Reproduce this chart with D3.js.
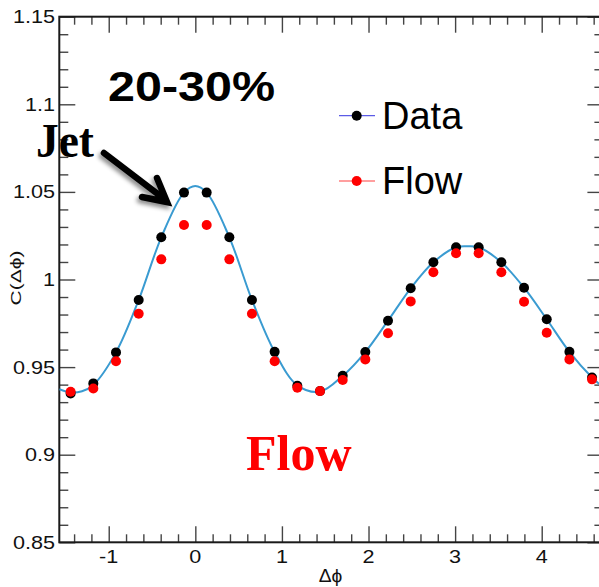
<!DOCTYPE html>
<html><head><meta charset="utf-8">
<script src="https://cdn.jsdelivr.net/npm/d3@7"></script>
<style>html,body{margin:0;padding:0;background:#fff;overflow:hidden}</style>
</head><body>
<svg id="c" width="599" height="587"></svg>
<script>
// ---- data ----
const dphi = [-1.440,-1.178,-0.916,-0.654,-0.393,-0.131,0.131,0.393,0.654,0.916,1.178,1.440,
              1.702,1.963,2.225,2.487,2.749,3.011,3.272,3.534,3.796,4.058,4.320,4.581];
const dataVals = [0.9350,0.9407,0.9584,0.9883,1.0241,1.0496,1.0496,1.0241,0.9883,0.9587,0.9393,0.9364,
                  0.9450,0.9586,0.9765,0.9950,1.0098,1.0184,1.0184,1.0098,0.9953,0.9773,0.9587,0.9441];
const flowVals = [0.9359,0.9378,0.9533,0.9805,1.0115,1.0311,1.0311,1.0115,0.9805,0.9533,0.9382,0.9363,
                  0.9426,0.9544,0.9693,0.9875,1.0041,1.0150,1.0150,1.0041,0.9873,0.9696,0.9544,0.9430];
const fitX = [-1.571,-1.440,-1.309,-1.178,-0.916,-0.654,-0.393,-0.131,0.000,0.131,0.393,0.654,0.916,1.178,
              1.440,1.702,1.963,2.225,2.487,2.749,3.011,3.142,3.272,3.534,3.796,4.058,4.320,4.581,4.712];
const fitY = [0.9374,0.9355,0.9362,0.9398,0.9584,0.9883,1.0241,1.0496,1.0533,1.0496,1.0241,0.9883,0.9586,0.9396,
              0.9360,0.9450,0.9586,0.9765,0.9950,1.0098,1.0184,1.0190,1.0184,1.0098,0.9953,0.9773,0.9587,0.9441,0.9385];
const xMajor = [-1,0,1,2,3,4];
const xMinor = [-1.4,-1.2,-0.8,-0.6,-0.4,-0.2,0.2,0.4,0.6,0.8,1.2,1.4,1.6,1.8,2.2,2.4,2.6,2.8,3.2,3.4,3.6,3.8,4.2,4.4,4.6];
const yMajor = [0.85,0.9,0.95,1,1.05,1.1,1.15];
const yMajorLabels = ["0.85","0.9","0.95","1","1.05","1.1","1.15"];
const yMinor = [0.86,0.87,0.88,0.89,0.91,0.92,0.93,0.94,0.96,0.97,0.98,0.99,1.01,1.02,1.03,1.04,1.06,1.07,1.08,1.09,1.11,1.12,1.13,1.14];
const legendItems = ["Data","Flow"];

// ---- layout ----
const svg = d3.select("#c");
const X0 = 59.3, X1 = 603.4, Y0 = 542.3, Y1 = 16.7;
const xs = d3.scaleLinear().domain([-Math.PI/2, 3*Math.PI/2]).range([X0, X1]);
const ys = d3.scaleLinear().domain([0.85, 1.15]).range([Y0, Y1]);

const defs = svg.append("defs");
defs.append("clipPath").attr("id","plot").append("rect")
  .attr("x",X0).attr("y",Y1).attr("width",X1-X0).attr("height",Y0-Y1);
const f = defs.append("filter").attr("id","shadow").attr("x","-30%").attr("y","-30%").attr("width","160%").attr("height","160%");
f.append("feDropShadow").attr("dx",-2).attr("dy",3).attr("stdDeviation",2).attr("flood-color","#000").attr("flood-opacity",0.45);

const tickColor = "#444";
function styleAxis(g){ g.select(".domain").remove(); g.selectAll("text").remove(); g.selectAll("line").attr("stroke",tickColor).attr("stroke-width",1.4); }

// bottom
svg.append("g").attr("transform",`translate(0,${Y0})`).call(d3.axisBottom(xs).tickValues(xMajor).tickSize(-16)).call(styleAxis);
svg.append("g").attr("transform",`translate(0,${Y0})`).call(d3.axisBottom(xs).tickValues(xMinor).tickSize(-8)).call(styleAxis);
// top
svg.append("g").attr("transform",`translate(0,${Y1})`).call(d3.axisTop(xs).tickValues(xMajor).tickSize(-16)).call(styleAxis);
svg.append("g").attr("transform",`translate(0,${Y1})`).call(d3.axisTop(xs).tickValues(xMinor).tickSize(-8)).call(styleAxis);
// left
svg.append("g").attr("transform",`translate(${X0},0)`).call(d3.axisLeft(ys).tickValues(yMajor).tickSize(-16)).call(styleAxis);
svg.append("g").attr("transform",`translate(${X0},0)`).call(d3.axisLeft(ys).tickValues(yMinor).tickSize(-9)).call(styleAxis);
// right
svg.append("g").attr("transform",`translate(${X1},0)`).call(d3.axisRight(ys).tickValues(yMajor).tickSize(-16)).call(styleAxis);
svg.append("g").attr("transform",`translate(${X1},0)`).call(d3.axisRight(ys).tickValues(yMinor).tickSize(-9)).call(styleAxis);

// frame
svg.append("rect").attr("x",X0).attr("y",Y1).attr("width",X1-X0).attr("height",Y0-Y1)
  .attr("fill","none").attr("stroke","#1a1a1a").attr("stroke-width",2);

// tick labels
const lab = svg.append("g").attr("font-family","'Liberation Sans', Arial, sans-serif").attr("fill","#111");
lab.selectAll(".yl").data(yMajor).join("text")
  .attr("transform",(d)=>`translate(55,${ys(d)+6.5}) scale(1.2,1)`)
  .attr("text-anchor","end").attr("font-size",18).text((d,i)=>yMajorLabels[i]);
lab.selectAll(".xl").data(xMajor).join("text")
  .attr("transform",d=>`translate(${xs(d)},563) scale(1.2,1)`)
  .attr("text-anchor","middle").attr("font-size",18).text(d=>d3.format("d")(d).replace("−","-"));

// axis titles
svg.append("text").attr("transform","translate(330.5,582) scale(1.1,1)").attr("text-anchor","middle")
  .attr("font-family","'Liberation Sans', Arial, sans-serif").attr("font-size",17.5).attr("fill","#111").text("Δϕ");
svg.append("text").attr("transform","translate(21,278) rotate(-90) scale(1.45,1)").attr("text-anchor","middle")
  .attr("font-family","'Liberation Sans', Arial, sans-serif").attr("font-size",14.5).attr("fill","#111").text("C(Δϕ)");

// fit curve
const plot = svg.append("g").attr("clip-path","url(#plot)");
const line = d3.line().x((d,i)=>xs(fitX[i])).y(d=>ys(d)).curve(d3.curveCatmullRom.alpha(0.5));
plot.append("path").datum(fitY).attr("d",line).attr("fill","none").attr("stroke","#3a9bd1").attr("stroke-width",2);

// points
plot.selectAll(".dp").data(dataVals).join("circle")
  .attr("cx",(d,i)=>xs(dphi[i])).attr("cy",d=>ys(d)).attr("r",5).attr("fill","#000");
plot.selectAll(".fp").data(flowVals).join("circle")
  .attr("cx",(d,i)=>xs(dphi[i])).attr("cy",d=>ys(d)).attr("r",5).attr("fill","#ff0000");

// legend
const legY = [115.7, 181];
const legLine = ["#5b5be6","#ff4040"];
const legDot = ["#000","#ff0000"];
const lg = svg.append("g");
legendItems.forEach((name,i)=>{
  lg.append("line").attr("x1",339).attr("x2",375).attr("y1",legY[i]).attr("y2",legY[i]).attr("stroke",legLine[i]).attr("stroke-width",1.2);
  lg.append("circle").attr("cx",356.7).attr("cy",legY[i]).attr("r",5).attr("fill",legDot[i]);
  lg.append("text").attr("x",382).attr("y",legY[i]+13).attr("font-family","'Liberation Sans', Arial, sans-serif")
    .attr("font-size",38).attr("fill","#000").text(name);
});

// annotations
svg.append("text").attr("x",108).attr("y",101).attr("font-family","'Liberation Sans', Arial, sans-serif")
  .attr("font-weight","bold").attr("font-size",43).attr("textLength",167).attr("lengthAdjust","spacingAndGlyphs").text("20-30%");
svg.append("text").attr("x",36).attr("y",157).attr("font-family","'Liberation Serif', 'Times New Roman', serif")
  .attr("font-weight","bold").attr("font-size",49).attr("textLength",58).attr("lengthAdjust","spacingAndGlyphs").text("Jet");
svg.append("text").attr("x",246).attr("y",470).attr("font-family","'Liberation Serif', 'Times New Roman', serif")
  .attr("font-weight","bold").attr("font-size",50).attr("fill","#ff0000").text("Flow");
svg.append("path").attr("d","M104,153 L163,198 M157,178 L167,202 L142,197")
  .attr("fill","none").attr("stroke","#000").attr("stroke-width",6.5).attr("stroke-linecap","round")
  .attr("stroke-linejoin","miter").attr("filter","url(#shadow)");
</script>
</body></html>
